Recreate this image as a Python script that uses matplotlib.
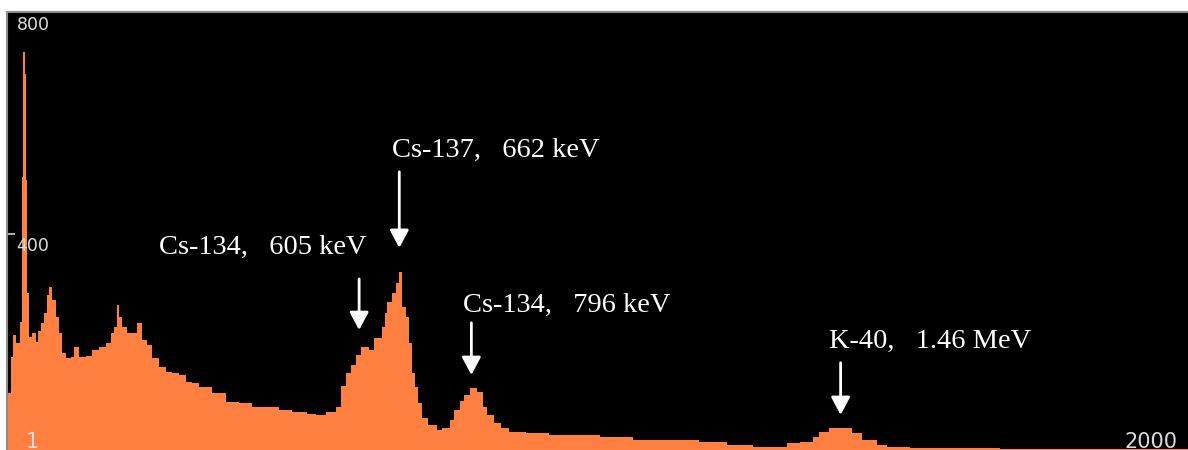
import matplotlib
matplotlib.use("Agg")
import matplotlib.pyplot as plt
import numpy as np

# channel edges (left edge of each step) and counts
channel_edges = [
    1, 8, 11, 16, 23, 26, 28, 31, 33, 35, 38, 43, 50, 54, 59, 64, 69, 72, 77, 84,
    89, 94, 101, 109, 115, 123, 135, 145, 157, 169, 177, 182, 187, 191, 196, 204,
    213, 221, 230, 238, 247, 258, 270, 281, 292, 304, 314, 326, 348, 372, 394, 416,
    440, 462, 484, 508, 524, 541, 558, 567, 575, 584, 592, 601, 614, 623, 635, 640,
    645, 652, 660, 665, 670, 677, 682, 687, 692, 696, 704, 713, 728, 738, 750, 758,
    767, 775, 784, 796, 806, 814, 826, 838, 851, 880, 919, 1004, 1060, 1173, 1219,
    1263, 1321, 1343, 1365, 1376, 1393, 1432, 1449, 1473, 1490, 1529, 1682, 2000,
]
counts = [
    113, 178, 218, 203, 241, 502, 728, 689, 497, 293, 215, 222, 205, 225, 240, 257,
    290, 304, 281, 250, 221, 185, 176, 178, 196, 178, 180, 191, 196, 203, 221, 232,
    272, 250, 232, 221, 221, 240, 209, 200, 176, 160, 151, 149, 146, 133, 131, 124,
    113, 97, 95, 88, 88, 83, 79, 76, 74, 79, 88, 126, 149, 164, 182, 196, 191, 212,
    232, 257, 277, 293, 311, 331, 268, 250, 203, 150, 125, 95, 68, 56, 47, 50, 65,
    83, 100, 110, 122, 116, 88, 74, 59, 50, 43, 41, 38, 34, 29, 25, 20, 16, 23, 25,
    34, 43, 50, 41, 29, 20, 16, 14, 13,
]

# annotations: label, text anchor (channel, count), arrow top, arrow tip
labels = ["Cs-137,   662 keV", "Cs-134,   605 keV", "Cs-134,   796 keV", "K-40,   1.46 MeV"]
label_pos = [(652, 539), (258, 364), (772, 259), (1393, 195)]
arrow_x = [665, 597, 787, 1412]
arrow_top = [512, 319, 240, 168]
arrow_tip = [375, 227, 146, 74]

fig = plt.figure(figsize=(11.88, 4.5), dpi=100)
fig.patch.set_facecolor("white")
ax = fig.add_axes([7 / 1188, -6 / 450, 1181 / 1188, 444 / 450])
ax.set_facecolor("black")

ax.stairs(counts, channel_edges, fill=True, color="#ff8040")

ax.set_xlim(1, 2000)
ax.set_ylim(0, 800)

for side in ["right", "bottom"]:
    ax.spines[side].set_visible(False)
for side in ["left", "top"]:
    ax.spines[side].set_color("#8c8c8c")
    ax.spines[side].set_linewidth(1.5)

ax.set_xticks([])
ax.set_yticks([400])
ax.tick_params(axis="y", direction="in", length=6, width=1.2, color="#d0d0d0",
               labelleft=False)

tick_color = "#dcdcdc"
ax.text(17, 793, "800", color=tick_color, fontsize=12.5, va="top", ha="left")
ax.text(17, 395, "400", color=tick_color, fontsize=12.5, va="top", ha="left")
ax.text(32, 14, "1", color=tick_color, fontsize=15, va="baseline", ha="left")
ax.text(1983, 15, "2000", color=tick_color, fontsize=15, va="baseline", ha="right")

for text, (tx, ty), ax_x, top, tip in zip(labels, label_pos, arrow_x, arrow_top, arrow_tip):
    ax.text(tx, ty, text, color="white", fontsize=20.5, family="Liberation Serif",
            va="baseline", ha="left")
    ax.annotate("", xy=(ax_x, tip), xytext=(ax_x, top),
                arrowprops=dict(arrowstyle="-|>,head_length=0.75,head_width=0.4",
                                color="white", lw=2, mutation_scale=14.4,
                                shrinkA=0, shrinkB=0))

fig.savefig("out.png", dpi=100, facecolor=fig.get_facecolor())
